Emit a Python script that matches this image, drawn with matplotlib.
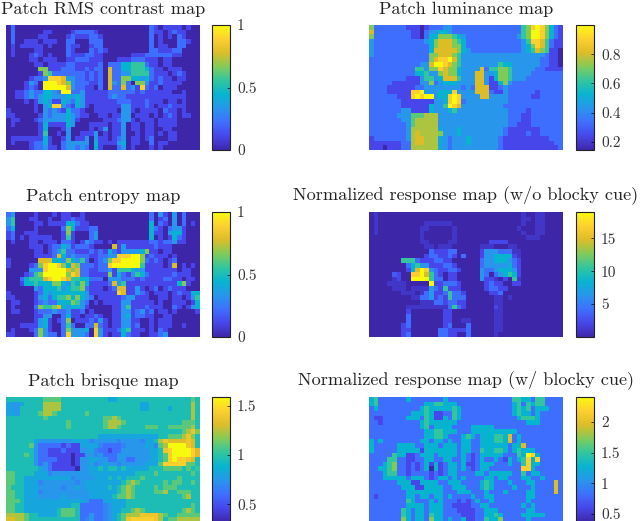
import numpy as np
import matplotlib
matplotlib.use('Agg')
import matplotlib.pyplot as plt
from matplotlib.colors import LinearSegmentedColormap

# each string is one row of patches: digit = level 0-9 between vmin and vmax,
# letters a-i are the half levels 0.5-8.5
rms = [
"020000000000000000000000000000021011110100",
"020000001100001222210000000000021101211000",
"020000011000012111221000000000020101021000",
"020011101110022000222000000000020100022100",
"010111110100021100122000000000020110022000",
"010000110000021000212100000000022111220000",
"010001210100021112211000000111222222110000",
"000001101110011222111000111222111011000000",
"000000110111122111112022244555211011000000",
"000000066111222112122072244555421101110000",
"000000016522222221212072233555521110121000",
"000001223888733221212072266443421211011000",
"000013209998763222112073262066311211110000",
"000012109999973221102072272318212011100000",
"001123224432992231111122222212111111001000",
"001123234433343431111123221111111111111000",
"000010134311432431111111222111211101101000",
"000000103488321431011111133111210112111000",
"100000103232142210011111033101111021101000",
"110000013233343211001101133011101012101100",
"011000123333343100000111233101110111100000",
"010000014111143000111101130110110111100000",
"000000014000130000101301130110110011000000",
"000000015001030011130101130010110101100000",
"011111114100130113031101230110120001100000",
"010001224100233333041111340110020110000000",
"000001223110233232041000230100010100000000",
]
entropy = [
"230000100010110010000000000000020310302000",
"350001100100112110000000000000020120302000",
"350000110111144211000000000000040210302010",
"240000100000264111220000000000042102331000",
"120011100000161000230000000000041103441000",
"120101111100151000230000000000040101421000",
"010001101110221013211010111111122122311000",
"000001110122431222100007131111112111000000",
"000000110123522111212142133334611011000000",
"000000111127423222112233888996121110100000",
"100000077744364352012368899996212101200000",
"100001268998647622212289999995111101701010",
"000003338999976722112231555433111111101100",
"000012569999968722111161421354211111211100",
"000245557899875544222033322212111122110110",
"000144544466435464111127351111111111146100",
"000000324445345562111012771131012012111000",
"100000124344444443111111871132101110121144",
"110000134245564643201111123311100110110135",
"011000123224446532010111133111110100111014",
"010000265567434431000001135111211100210134",
"011000122232231120100001133123120110100001",
"000000113300241101121001134122110011000000",
"000000134101260111213101133110010111000000",
"000111134100252002272101133120010111001000",
"010001263100263334083111245111010210000000",
"110000263220283332083101142110011230000000",
]
brisque = [
"eeeeeeeeffffeeeeeeeeeeddeeeeeeeeeeeeeeeefe",
"d33deeeeggggeeeeeeeeeeeeeeeeeddeeeeeeeeege",
"d33eeeeeggggeeeeeeeeeeeeeeeeeddeeeedeeeege",
"dd3eeeefggfeeeeeefeeeeeeeeeeeeeeeeeeeeeege",
"eeeeeeeefeeeeeeeeeeeeffgfeeeeeeeeeeeeeeege",
"eeeeeeeeeeeeefeeeeeeefgggfeeeeeeeeeeeefffe",
"eeeeeeeeeeeeefeeeeeeefggfeeeeefffeefffffge",
"eeeeeeeeeeeeeeeeeeeeeeeeeeeeeeeeeeeeeefgh6",
"eeeeeeeeeeeeeeeeeeeedddddddddddddeefffgh6e",
"eeeeeed3333333ddddc33333c3333cddegh7777h7e",
"eeeeef3222221211ddddc2222c3333ddcfg9999h7e",
"eeeeee322111211133dc22122333333ddeh8999987",
"eeeefe3221111101133c32223333333ddef8999987",
"eeeeee322221110133dd33223322333ddef8988h7e",
"eeeeee323211110133dc3d33c33333dddf88888ffe",
"eeeeeeed3211111033ddedeededddddeeeffffefe5",
"ffeeeedddc33333333ddddddddddeeeefeeeeeeefe",
"ffeeddddddddddc3333dddededeeefeeeeeeefeeee",
"ffeedddc3333333c3ddddddddefgfeeeeefeffeefe",
"feeeddd33333c33d3dddddedefgfeeeefefffeeeee",
"ffeedddc3333333333ddddddefgfeeeeffgeefffee",
"ffeeddd33333d33333dddddeffgfeeeeeeeeeefgee",
"fffeddddddddddddd3222dddddeeeeeeeeeeeeeeee",
"ffeeddddddddddee22222c3dddeeeeeeeeeeeeeefe",
"ffeedddddddefffe22222c3ddeefgfeeeeeeeefgfe",
"ggggfeeddddefffe22322c3defggghhhhgfeefffff",
"77ggfeeeeeeeeeee2c322c3defh88888hgeffggggg",
]
luminance = [
"622222221110122233222222222222222568986421",
"722222222110233443222222222222222569986421",
"622222222110244666543222222222223569986421",
"322222222222346777654222222222222358875211",
"322222222222246777664222222222222346875211",
"322222222222247777764322222222222345765110",
"322222222222266777653333333333333333332110",
"222222222222267889753333333333333333322110",
"222222222223379987653333333354433333322110",
"222222222255366876643333725566533333221111",
"222222222244533676643337733466533332222222",
"222222221113553477753337731466533322222222",
"222221111113362344433337731146322222222222",
"222211111122333333332327771123222222222222",
"222211111889333444833337772113222222122222",
"222222111898993448983333773333222221122222",
"222222211111113348982333333333222222222222",
"222222211111143359873333333332222222222222",
"222222233111143334533333333333222212222222",
"222222333fffggg333333333333333222112222222",
"222222233fggggg333333333333333222112222222",
"222222223fggggg333333333333333221112222222",
"222222223ggggggd33343333333332111111122222",
"222222223g7gggg633343333333332111121122222",
"122222223g77gggd32333433333321111111111222",
"111111122g77gggd32333433333321111111111122",
"111011122ggggggd32333333333321111111111112",
]
resp_noblock = [
"0a0000000000000000000000000000000a00aa0000",
"0a0000000000000000000000000000000aa0aa0000",
"0a0000000000aaaaaa000000000000000a00aa0000",
"0a000000000aa00000a0000000000000a000aa0000",
"0a000000000a000000a00000000000000a00aa0000",
"00000000000a000000a000000000000000aaa00000",
"00000000000aa0000aa00000001111000000000000",
"000000000000aa0aaa000000aaa000aa0000000000",
"0000000000000211122000001333222aa000000000",
"00000000000012211210200013344441a000000000",
"000000055521112211000000233444321000000000",
"000000002453311122100000233333421000000000",
"000000001479832112210000322344431000000000",
"00000b100889752101100000320234541000000000",
"00000a100999952201100000311a0105a000000000",
"0000aaaa0000091122210000012110011000000000",
"00000aaa0aaaa32151110000012211000000000000",
"0000000aaa0a231125221000001120000000000000",
"000000000aa2231215222000000aa0a00000000000",
"00000000000aaa2212211000000aa0000000000000",
"00000000aaaaaaaaa25210000001a0000000000000",
"000000001000000011000000000aa0000000000000",
"000000002000000011000000000aa0000000000000",
"00000000200000001100aa00000aa0000000000000",
"000000012000000012000200000aa0000000000000",
"000000011000000221111200000aa0000000000000",
"000000012000000221100200000a00000000000000",
]
resp_block = [
"452222224222222242222222222222255442552222",
"452222222222445544422222222222245254552222",
"242222222224544444542222222222245452444222",
"222222222444541122542222222222245442422222",
"211222224442541142542222222222224555422222",
"221222222224544444422222222222222244422222",
"222222222224524444222244444222222222222222",
"222222222222445544422244444444442222222222",
"222222222222445542224542444554724222222222",
"424222222224424424224422444554724222222222",
"422222444422444244424422444444244722222222",
"422222444441444444424422544554245444222222",
"222225441124442444424212444442225498422222",
"222255221122442244224212422421424584822222",
"222456221212414124424112444222422584422222",
"224456221212404124424212442222222884222222",
"222455221222212124422224424444422524422222",
"222444442444212442424222244244222442242222",
"222222444114444224442222454222422244222272",
"222222244411444422444222454222242224222272",
"222222224444444422244422242224222244222272",
"212222224424424424222242244222222244222222",
"222222225422242422212124224222222242222222",
"222222224444244422111122442222222424222222",
"222222254244244422211112244422222244222222",
"222222254244254422221112244542222444442222",
"222222264244264424224112254462222242222222",
]

titles = ['Patch RMS contrast map', 'Patch luminance map', 'Patch entropy map',
          'Normalized response map (w/o blocky cue)', 'Patch brisque map',
          'Normalized response map (w/ blocky cue)']
maps = [rms, luminance, entropy, resp_noblock, brisque, resp_block]
vmins = [0, 0.145, 0, 0, 0.32, 0.37]
vmaxs = [1, 1.0, 1, 19, 1.59, 2.41]
ticks = [[0, 0.5, 1], [0.2, 0.4, 0.6, 0.8], [0, 0.5, 1], [5, 10, 15],
         [0.5, 1, 1.5], [0.5, 1, 1.5, 2]]
ticklabels = [['0', '0.5', '1'], ['0.2', '0.4', '0.6', '0.8'], ['0', '0.5', '1'],
              ['5', '10', '15'], ['0.5', '1', '1.5'], ['0.5', '1', '1.5', '2']]

parula = LinearSegmentedColormap.from_list('parula', [
    (0.2422, 0.1504, 0.6603), (0.2803, 0.2782, 0.9221), (0.2440, 0.4358, 0.9988),
    (0.1540, 0.5902, 0.9218), (0.0297, 0.7082, 0.8163), (0.1938, 0.7758, 0.6251),
    (0.5044, 0.7993, 0.3480), (0.8634, 0.7406, 0.1596), (0.9892, 0.8136, 0.1885),
    (0.9763, 0.9831, 0.0538)])

plt.rcParams['font.family'] = ['cmr10', 'DejaVu Sans']
plt.rcParams['axes.formatter.use_mathtext'] = True

W, H = 640, 521
fig = plt.figure(figsize=(W/100, H/100), dpi=100)

def box(x0, y0, x1, y1):
    return [x0/W, 1 - y1/H, (x1 - x0)/W, (y1 - y0)/H]

def level(c):
    if c.isdigit():
        return float(c)
    return ord(c) - ord('a') + 0.5

lefts = [(6, 200, 212, 230), (369, 563, 576, 594)]
tops = [25, 212, 397]

for i, rows in enumerate(maps):
    col = lefts[i % 2]
    top = tops[i // 2]
    grid = np.array([[level(c) for c in r.ljust(42, r[-1])[:42]] for r in rows]) / 9.0
    vals = vmins[i] + grid * (vmaxs[i] - vmins[i])
    ax = fig.add_axes(box(col[0], top, col[1], top + 125))
    im = ax.imshow(vals, cmap=parula, vmin=vmins[i], vmax=vmaxs[i], aspect='auto',
                   interpolation='nearest')
    ax.axis('off')
    center = (col[0] + col[1]) / 2
    if i == 3 or i == 5:
        center = 466
    fig.text(center/W, 1 - (top - 8)/H, titles[i], ha='center', va='bottom',
             fontsize=13.1, color='#222222')
    cax = fig.add_axes(box(col[2], top, col[3], top + 125))
    cb = fig.colorbar(im, cax=cax)
    cb.set_ticks(ticks[i])
    cb.set_ticklabels(ticklabels[i])
    cb.ax.tick_params(direction='in', length=2, width=0.5, labelsize=11,
                      labelcolor='#333333', pad=5)
    cb.outline.set_linewidth(0.8)
    cb.outline.set_edgecolor('#222222')

fig.savefig('out.png', dpi=100)
